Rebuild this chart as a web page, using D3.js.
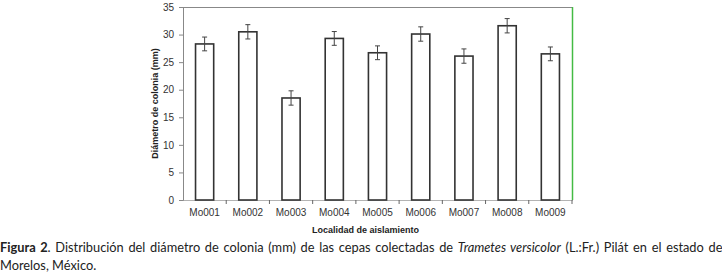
<!DOCTYPE html>
<html>
<head>
<meta charset="utf-8">
<script src="https://cdn.jsdelivr.net/npm/d3@7"></script>
<style>
  body { margin: 0; background: #fff; }
  .axis text { font-family: "Liberation Sans", Arial, sans-serif; font-size: 10px; fill: #333; }
  .caption { font-family: Lato, "Open Sans", sans-serif; font-size: 12.8px; fill: #222; }
</style>
</head>
<body>
<svg id="chart" width="722" height="275"></svg>
<script>
// values
const localidades = ["Mo001", "Mo002", "Mo003", "Mo004", "Mo005", "Mo006", "Mo007", "Mo008", "Mo009"];
const diametro = [28.3, 30.5, 18.5, 29.3, 26.7, 30.1, 26.1, 31.6, 26.5];
const errorEst = [1.25, 1.3, 1.3, 1.25, 1.25, 1.3, 1.3, 1.3, 1.25];
const yTicks = [0, 5, 10, 15, 20, 25, 30, 35];

const margin = { top: 7, left: 183, right: 150, bottom: 38 };
const width = 722 - margin.left - margin.right;
const height = 238 - margin.top - margin.bottom;

const svg = d3.select('#chart');
const chart = svg.append('g')
  .attr('transform', `translate(${margin.left},${margin.top})`);

const xScale = d3.scaleBand()
  .domain(localidades)
  .range([0, width])
  .paddingInner(0.58)
  .paddingOuter(0.29);

const yScale = d3.scaleLinear()
  .domain([0, 35])
  .range([height, 0]);

// top border and green right border
chart.append('line')
  .attr('x1', 0).attr('x2', width).attr('y1', 0.5).attr('y2', 0.5)
  .attr('stroke', '#888').attr('stroke-width', 1);
chart.append('line')
  .attr('x1', width + 0.5).attr('x2', width + 0.5).attr('y1', 0).attr('y2', height)
  .attr('stroke', '#44bb44').attr('stroke-width', 1.5);

// y axis
const yAxisG = chart.append('g')
  .attr('class', 'axis y-axis')
  .call(d3.axisLeft(yScale).tickValues(yTicks).tickSize(4).tickSizeOuter(0).tickPadding(5));
yAxisG.select('.domain').attr('stroke', '#888');
yAxisG.selectAll('.tick line').attr('stroke', '#888');

// x axis: dotted baseline with ticks between categories
const xAxisG = chart.append('g')
  .attr('class', 'axis x-axis')
  .attr('transform', `translate(0,${height})`)
  .call(d3.axisBottom(xScale).tickSize(0).tickPadding(9));
xAxisG.select('.domain').attr('stroke', '#666').attr('stroke-dasharray', '1,1');

const step = xScale.step();
chart.selectAll('.sep-tick')
  .data(localidades.slice(1).concat(['end']))
  .join('line')
  .attr('class', 'sep-tick')
  .attr('x1', (d, i) => step * (i + 1))
  .attr('x2', (d, i) => step * (i + 1))
  .attr('y1', height)
  .attr('y2', height + 4)
  .attr('stroke', '#666');

// bars
chart.selectAll('.bar')
  .data(localidades)
  .join('rect')
  .attr('class', 'bar')
  .attr('x', d => xScale(d))
  .attr('width', xScale.bandwidth())
  .attr('y', (d, i) => yScale(diametro[i]))
  .attr('height', (d, i) => height - yScale(diametro[i]))
  .attr('fill', '#fff')
  .attr('stroke', '#333')
  .attr('stroke-width', 1.6);

// error bars
const errG = chart.selectAll('.err')
  .data(localidades)
  .join('g')
  .attr('class', 'err')
  .attr('stroke', '#444')
  .attr('stroke-width', 1);
errG.append('line')
  .attr('x1', d => xScale(d) + xScale.bandwidth() / 2)
  .attr('x2', d => xScale(d) + xScale.bandwidth() / 2)
  .attr('y1', (d, i) => yScale(diametro[i] + errorEst[i]))
  .attr('y2', (d, i) => yScale(diametro[i] - errorEst[i]));
[1, -1].forEach(s => {
  errG.append('line')
    .attr('x1', d => xScale(d) + xScale.bandwidth() / 2 - 2.5)
    .attr('x2', d => xScale(d) + xScale.bandwidth() / 2 + 2.5)
    .attr('y1', (d, i) => yScale(diametro[i] + s * errorEst[i]))
    .attr('y2', (d, i) => yScale(diametro[i] + s * errorEst[i]));
});

// axis titles
svg.append('text')
  .attr('x', margin.left + width / 2 - 12)
  .attr('y', 233)
  .attr('text-anchor', 'middle')
  .style('font-family', '"Liberation Sans", Arial, sans-serif')
  .style('font-size', '9px')
  .style('font-weight', 'bold')
  .attr('fill', '#222')
  .text('Localidad de aislamiento');

svg.append('text')
  .attr('transform', `translate(158,${margin.top + height / 2}) rotate(-90)`)
  .attr('text-anchor', 'middle')
  .style('font-family', '"Liberation Sans", Arial, sans-serif')
  .style('font-size', '9px')
  .style('font-weight', 'bold')
  .attr('fill', '#222')
  .text('Diámetro de colonia (mm)');

// caption, first line justified to the full width
let line1 = svg.append('text')
  .attr('class', 'caption')
  .attr('x', 0)
  .attr('y', 252);
line1.append('tspan').style('font-weight', 'bold').text('Figura 2');
line1.append('tspan').text('. Distribución del diámetro de colonia (mm) de las cepas colectadas de ');
line1.append('tspan').style('font-style', 'italic').text('Trametes versicolor');
line1.append('tspan').text(' (L.:Fr.) Pilát en el estado de');

let len = line1.node().getComputedTextLength();
let gaps = 19;
line1.style('word-spacing', ((721 - len) / gaps) + 'px');

svg.append('text')
  .attr('class', 'caption')
  .attr('x', 0)
  .attr('y', 270)
  .text('Morelos, México.');
</script>
</body>
</html>
